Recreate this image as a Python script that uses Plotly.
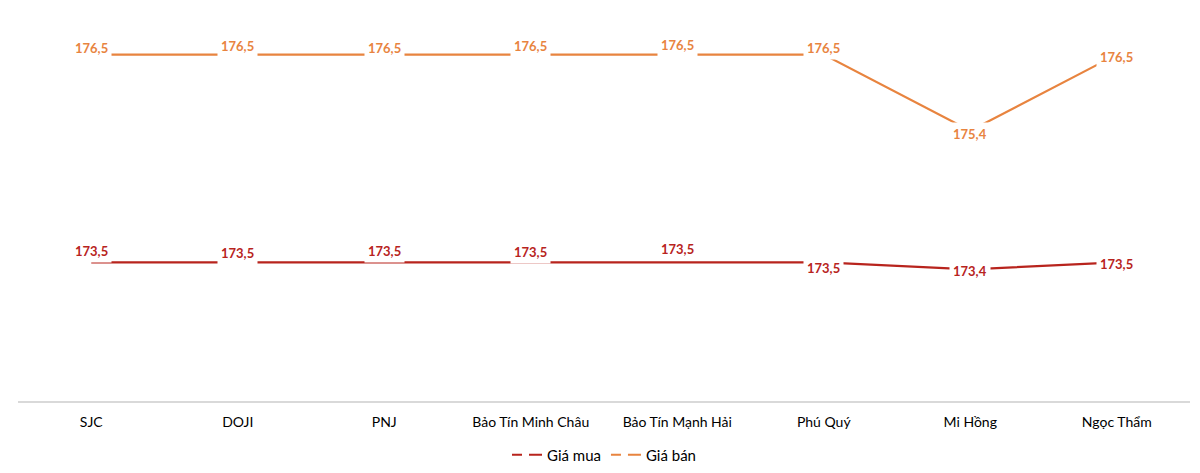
import plotly.graph_objects as go

# dữ liệu giá vàng (triệu đồng/lượng)
brands = ["SJC", "DOJI", "PNJ", "Bảo Tín Minh Châu", "Bảo Tín Mạnh Hải",
          "Phú Quý", "Mi Hồng", "Ngọc Thẩm"]
gia_mua = [173.5, 173.5, 173.5, 173.5, 173.5, 173.5, 173.4, 173.5]
gia_ban = [176.5, 176.5, 176.5, 176.5, 176.5, 176.5, 175.4, 176.5]

RED = "#B8241D"
ORANGE = "#E8843F"
FONT = "Lato, Noto Sans, sans-serif"

# vertical nudges of the value labels (px, + = up), Excel style
shift_mua = [11, 9, 11, 10, 13, -6, -2, -2]
shift_ban = [7, 9, 7, 9, 10, 7, -3, -2]

fig = go.Figure()

for name, vals, color in [("Giá mua", gia_mua, RED), ("Giá bán", gia_ban, ORANGE)]:
    fig.add_trace(go.Scatter(x=brands, y=vals, mode="lines", name=name,
                             line=dict(color=color, width=2.2),
                             showlegend=False, hoverinfo="x+y"))
    # legend entry with the dashed sample like the original
    fig.add_trace(go.Scatter(x=[None], y=[None], mode="lines", name=name,
                             line=dict(color=color, width=2, dash="10px,7px,13px")))

annotations = []
for vals, shifts, color in [(gia_mua, shift_mua, RED), (gia_ban, shift_ban, ORANGE)]:
    for b, v, s in zip(brands, vals, shifts):
        annotations.append(dict(
            x=b, y=v, xref="x", yref="y", text=f"{v:.1f}".replace(".", ","),
            showarrow=False, yshift=s, bgcolor="white", borderpad=3,
            font=dict(family=FONT, size=13, color=color, weight="bold")))

# the page adds an 8px body margin, so margins are reduced by that much
fig.update_layout(
    width=1200, height=473,
    margin=dict(l=10, r=18, t=12, b=80, autoexpand=False),
    paper_bgcolor="white", plot_bgcolor="white",
    font=dict(family=FONT, size=14, color="#000000"),
    annotations=annotations,
    legend=dict(orientation="h", x=0.5, xanchor="center", y=-0.142, yanchor="middle",
                font=dict(size=15), itemwidth=30, traceorder="normal"),
)
fig.update_xaxes(type="category", range=[-0.5, 7.5], showgrid=False, automargin=False,
                 showline=True, linecolor="#D9D9D9", linewidth=1.5, ticks="",
                 ticklabelstandoff=7, tickfont=dict(size=14))
fig.update_yaxes(range=[171.5, 177.0], showgrid=False, showticklabels=False,
                 automargin=False, zeroline=False, showline=False)

fig.write_html("out.html")
